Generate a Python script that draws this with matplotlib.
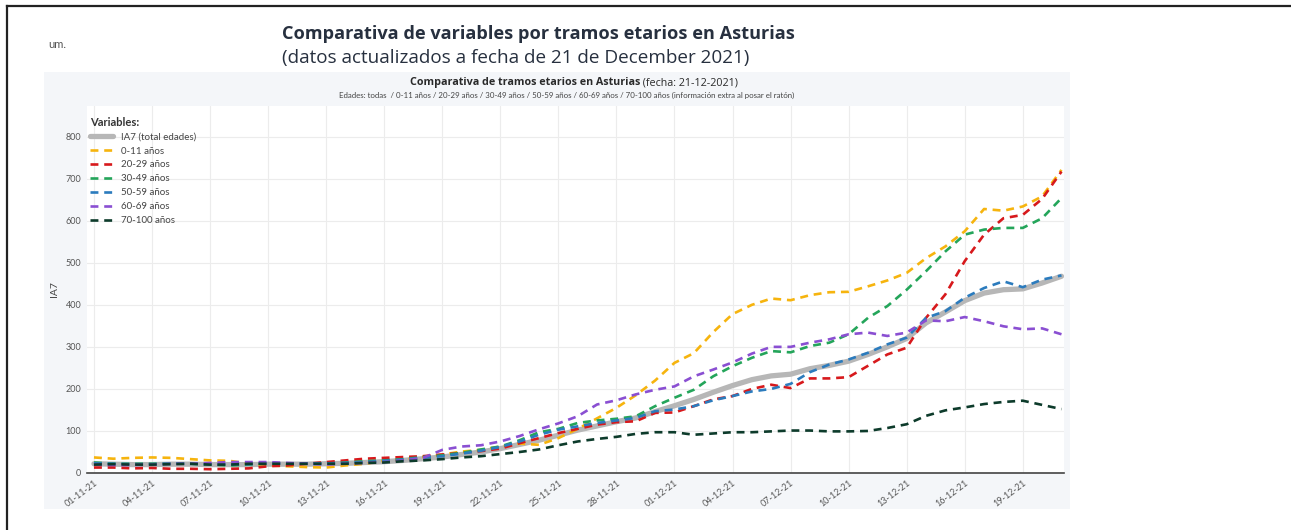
import numpy as np
import pandas as pd
import matplotlib
matplotlib.use('Agg')
import matplotlib.pyplot as plt
import matplotlib.dates as mdates
from matplotlib.patches import Rectangle
from matplotlib.lines import Line2D

# daily IA7 values, 01-11-2021 .. 21-12-2021
dates = pd.date_range('2021-11-01', '2021-12-21', freq='D')

ia7_total = [22, 21, 20, 20, 21, 21, 20, 20, 20, 21, 21, 21, 22, 23, 25, 27, 30,
             34, 38, 44, 50, 58, 68, 78, 90, 102, 112, 122, 131, 146, 160, 175,
             192, 208, 222, 231, 235, 248, 256, 266, 282, 300, 320, 357, 383, 410,
             428, 436, 438, 452, 468]
age_0_11 = [37, 34, 36, 37, 36, 33, 30, 29, 22, 18, 16, 14, 13, 18, 22, 29, 32,
            38, 44, 51, 55, 63, 70, 67, 83, 105, 130, 155, 185, 220, 262, 285,
            335, 378, 400, 415, 411, 423, 430, 431, 444, 458, 476, 511, 539, 575,
            628, 624, 634, 658, 721]
age_20_29 = [13, 13, 11, 12, 10, 10, 9, 10, 11, 16, 18, 22, 26, 30, 34, 36, 38,
             40, 44, 48, 52, 58, 71, 83, 95, 105, 115, 121, 123, 143, 144, 159,
             175, 183, 200, 210, 202, 225, 225, 228, 255, 282, 298, 369, 425, 504,
             567, 606, 614, 652, 717]
age_30_49 = [25, 22, 22, 22, 23, 22, 20, 18, 20, 24, 22, 22, 22, 25, 28, 30, 33,
             38, 42, 48, 56, 63, 78, 97, 105, 119, 125, 129, 135, 159, 179, 198,
             230, 254, 274, 290, 287, 302, 310, 330, 369, 397, 436, 480, 527, 567,
             579, 583, 583, 606, 654]
age_50_59 = [23, 22, 21, 21, 22, 22, 21, 20, 21, 22, 23, 23, 23, 24, 26, 29, 32,
             36, 40, 46, 53, 62, 75, 91, 103, 111, 119, 125, 131, 147, 151, 159,
             173, 183, 194, 200, 212, 240, 258, 270, 286, 306, 322, 369, 385, 417,
             440, 456, 442, 460, 470]
age_60_69 = [20, 19, 19, 20, 22, 22, 24, 26, 26, 26, 24, 22, 20, 22, 24, 26, 30,
             36, 55, 63, 66, 75, 88, 104, 118, 135, 163, 173, 187, 198, 206, 230,
             246, 263, 284, 300, 300, 310, 318, 330, 334, 326, 334, 363, 361, 371,
             361, 349, 342, 344, 330]
age_70_100 = [20, 21, 20, 20, 21, 22, 20, 20, 22, 22, 22, 22, 22, 22, 24, 25, 28,
              30, 33, 37, 40, 45, 50, 56, 66, 75, 81, 86, 93, 97, 97, 91, 94, 97,
              97, 99, 101, 101, 99, 99, 100, 107, 116, 136, 149, 156, 164, 169,
              172, 162, 152]

series = [
    ('IA7 (total edades)', ia7_total, '#b7b7b7'),
    ('0-11 años', age_0_11, '#f6b40e'),
    ('20-29 años', age_20_29, '#d7191c'),
    ('30-49 años', age_30_49, '#24a55a'),
    ('50-59 años', age_50_59, '#2b7bbd'),
    ('60-69 años', age_60_69, '#8a4fd2'),
    ('70-100 años', age_70_100, '#0d3b2b'),
]

W, H = 1291, 530
plt.rcParams['font.family'] = ['Lato', 'DejaVu Sans']
TITLE_FONT = ['Open Sans', 'DejaVu Sans']


def fx(x):
    return x / W


def fy(y):
    return 1 - y / H


fig = plt.figure(figsize=(W / 100, H / 100), dpi=100)
fig.patch.set_facecolor('white')

# page frame and grey chart panel
fig.add_artist(Line2D([fx(7), 1], [fy(6), fy(6)], color='#222222', lw=1.6))
fig.add_artist(Line2D([fx(7), fx(7)], [fy(6), 0], color='#222222', lw=1.6))
fig.add_artist(Rectangle((fx(44), fy(509)), fx(1070) - fx(44), fy(72) - fy(509),
                         transform=fig.transFigure, facecolor='#f4f6f9',
                         edgecolor='none', zorder=0))

ax = fig.add_axes([fx(87), fy(473), fx(1064) - fx(87), fy(106) - fy(473)])
ax.set_facecolor('white')

for i, (name, vals, col) in enumerate(series):
    if i == 0:
        ax.plot(dates, vals, color=col, lw=3.8, solid_capstyle='round',
                label=name, zorder=2)
    else:
        ax.plot(dates, vals, color=col, lw=1.9, dashes=(3.0, 2.2),
                label=name, zorder=3)

ax.set_ylim(0, 873)
day = pd.Timedelta(days=1)
ax.set_xlim(dates[0] - 0.36 * day, dates[-1] + 0.13 * day)
ax.set_yticks(np.arange(0, 801, 100))
ax.set_xticks(dates[::3])
ax.xaxis.set_major_formatter(mdates.DateFormatter('%d-%m-%y'))
ax.grid(True, color='#ececec', lw=0.8)
ax.set_axisbelow(True)
for s in ['top', 'right', 'left']:
    ax.spines[s].set_visible(False)
ax.spines['bottom'].set_color('#444444')
ax.spines['bottom'].set_linewidth(1.2)
ax.tick_params(length=0, labelsize=6.5, labelcolor='#555555', pad=4)
plt.setp(ax.get_xticklabels(), rotation=37, ha='right', va='top',
         rotation_mode='anchor')
ax.set_ylabel('IA7', fontsize=7.5, color='#444444', labelpad=5)

leg = ax.legend(title='Variables:', loc='upper left', bbox_to_anchor=(fx(86), fy(113)),
                bbox_transform=fig.transFigure, frameon=False, fontsize=7,
                handlelength=2.4, labelspacing=0.5, borderaxespad=0,
                title_fontproperties={'weight': 'bold', 'size': 8},
                alignment='left')
for t in leg.get_texts():
    t.set_color('#444444')
leg.get_title().set_color('#333333')

# titles
fig.text(fx(48), fy(44), 'um.', fontsize=8, color='#555555', va='center')
t1 = fig.text(fx(282), fy(34), 'Comparativa de variables por tramos etarios en Asturias',
              fontsize=14, weight='bold', color='#27303f', va='center',
              family=TITLE_FONT)
t2 = fig.text(fx(282), fy(58), '(datos actualizados a fecha de 21 de December 2021)',
              fontsize=14, color='#27303f', va='center', family=TITLE_FONT)
t3 = fig.text(fx(410), fy(83), 'Comparativa de tramos etarios en Asturias',
              fontsize=8, weight='bold', color='#2a2a2a', va='center',
              family=TITLE_FONT)
t4 = fig.text(fx(410), fy(83), ' (fecha: 21-12-2021)',
              fontsize=8, color='#2a2a2a', va='center', family=TITLE_FONT)
t5 = fig.text(fx(567), fy(95),
              'Edades: todas  / 0-11 años / 20-29 años / 30-49 años / 50-59 años / '
              '60-69 años / 70-100 años (información extra al posar el ratón)',
              fontsize=5, color='#444444', va='center', ha='center')

renderer = fig.canvas.get_renderer()


def fit(txt, width_px):
    bb = txt.get_window_extent(renderer)
    txt.set_fontsize(txt.get_fontsize() * width_px / bb.width)


fit(t1, 516)
fit(t2, 471)
fit(t5, 460)
# chart title: bold part followed by regular part, 328 px in total
w3 = t3.get_window_extent(renderer).width
w4 = t4.get_window_extent(renderer).width
k = 328 / (w3 + w4)
t3.set_fontsize(t3.get_fontsize() * k)
t4.set_fontsize(t4.get_fontsize() * k)
w3 = t3.get_window_extent(renderer).width
t4.set_x(fx(410 + w3))

fig.savefig('out.png', dpi=100)
